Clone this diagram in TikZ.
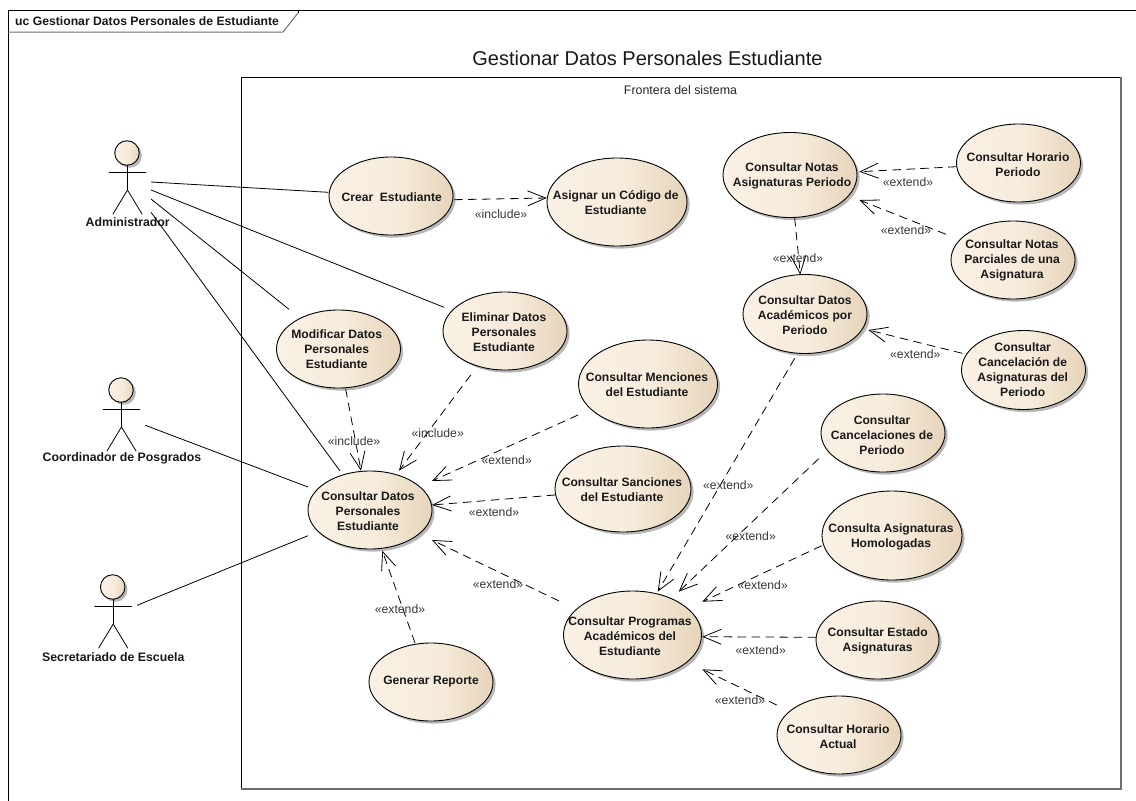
\documentclass[tikz,border=0pt]{standalone}
\usepackage{fontspec}
\setmainfont{Liberation Sans}
\usetikzlibrary{shapes.geometric,arrows.meta,calc}
\definecolor{ucA}{HTML}{F9F1E4}
\definecolor{ucB}{HTML}{F7ECDC}
\definecolor{ucC}{HTML}{E6D4BA}
\definecolor{edgeg}{HTML}{6E6E6E}
\pgfdeclarehorizontalshading{ucshade}{100bp}{color(0bp)=(ucA); color(25bp)=(ucA); color(52bp)=(ucB); color(75bp)=(ucC); color(100bp)=(ucC)}
\tikzset{
  x=1pt,y=-1pt,
  ucshape/.style={ellipse,draw=black,line width=0.9pt,inner sep=0pt,shading=ucshade,
    preaction={fill=black,fill opacity=.28,transform canvas={shift={(2.6,2.6)}}}},
  uctext/.style={inner sep=0pt,align=center,font=\fontsize{12.1}{15}\selectfont\bfseries,text=black!90},
  assoc/.style={line width=0.8pt,draw=black},
  dep/.style={line width=0.8pt,draw=black,dash pattern=on 8.5pt off 5.5pt,-{Straight Barb[length=18pt,width=15pt,line width=0.8pt]}},
  lbl/.style={inner sep=0pt,font=\fontsize{12.2}{14}\selectfont,text=black!78},
  limb/.style={line width=0.8pt,draw=black,line cap=round},
  acttext/.style={inner sep=0pt,font=\fontsize{12.3}{14}\selectfont\bfseries,text=black!90},
}
\newcommand{\ucnode}[8]{%
  \node[ucshape,minimum width=#4pt,minimum height=#5pt] (#1) at (#2,#3) {};
  \node[uctext] (#1-t) at (#6,#7) {#8};}
\newcommand{\actornode}[3]{%
  \node[ucshape,circle,minimum size=24.5pt] (#1) at (#2,#3) {};
  \coordinate (#1-n) at ($(#1)+(0.5,12.3)$);
  \coordinate (#1-h) at ($(#1)+(0.5,37)$);
  \draw[limb] ($(#1)+(-18,19)$) -- ($(#1)+(19,19)$);
  \draw[limb] (#1-n) -- (#1-h);
  \draw[limb] ($(#1)+(-14,61)$) -- (#1-h) -- ($(#1)+(15,61)$);}
\begin{document}
\begin{tikzpicture}
\useasboundingbox (0,0) rectangle (1136,801);
\fill[white] (0,0) rectangle (1136,801);
% frame
\draw[line width=0.9pt,black] (8,801) -- (8,10) -- (1136,10);
\draw[line width=0.9pt,black] (298,10) -- (298,13);
\draw[line width=1pt,edgeg] (8,32) -- (283,32) -- (298,13);
\node[inner sep=0pt,anchor=west,font=\fontsize{12.2}{14}\selectfont\bfseries,text=black!90] (frametitle) at (15,21) {uc Gestionar Datos Personales de Estudiante};
\node[inner sep=0pt,font=\fontsize{20}{22}\selectfont,text=black!90] (maintitle) at (647.5,58) {Gestionar Datos Personales Estudiante};
% boundary
\draw[line width=0.9pt,black] (241,789) -- (241,77) -- (1121,77);
\draw[line width=1.3pt,edgeg] (1121,77) -- (1121,789) -- (241,789);
\node[inner sep=0pt,font=\fontsize{12.4}{14}\selectfont,text=black!85] (boundary) at (680.5,90) {Frontera del sistema};
% use cases
\ucnode{crear}{391}{196}{124}{78}{391.7}{197}{Crear\ \ Estudiante}
\ucnode{asig}{617}{202}{140}{88}{615.7}{202.5}{Asignar un Código de\\Estudiante}
\ucnode{elim}{505}{331}{124}{78}{504}{332}{Eliminar Datos\\Personales\\Estudiante}
\ucnode{modi}{338.5}{349}{124}{78}{336.7}{349}{Modificar Datos\\Personales\\Estudiante}
\ucnode{menc}{648}{384}{139}{88}{647}{385}{Consultar Menciones\\del Estudiante}
\ucnode{sanc}{623}{489}{136}{86}{622}{489.5}{Consultar Sanciones\\del Estudiante}
\ucnode{datos}{370}{510}{124}{78}{368}{511}{Consultar Datos\\Personales\\Estudiante}
\ucnode{gene}{431}{682}{124}{78}{431}{682}{Generar Reporte}
\ucnode{prog}{632.5}{635}{138}{88}{630}{636}{Consultar Programas\\Académicos del\\Estudiante}
\ucnode{notas}{790}{175}{134}{85}{792}{175.6}{Consultar Notas\\Asignaturas Periodo}
\ucnode{hper}{1018.5}{163}{124}{78}{1018}{164.5}{Consultar Horario\\Periodo}
\ucnode{parc}{1013}{260}{124}{78}{1012}{260.5}{Consultar Notas\\Parciales de una\\Asignatura}
\ucnode{acad}{805}{314}{124}{79}{805}{315}{Consultar Datos\\Académicos por\\Periodo}
\ucnode{canc}{1023.5}{370}{124}{79}{1022.7}{370}{Consultar\\Cancelación de\\Asignaturas del\\Periodo}
\ucnode{cper}{883}{433}{124}{78}{882}{435}{Consultar\\Cancelaciones de\\Periodo}
\ucnode{homo}{892}{535.5}{140}{89}{891}{536.6}{Consulta Asignaturas\\Homologadas}
\ucnode{esta}{877.5}{640}{123}{78}{877.7}{641}{Consultar Estado\\Asignaturas}
\ucnode{hact}{839}{735}{124}{78}{838}{736.6}{Consultar Horario\\Actual}
% actors
\actornode{admin}{127}{153}
\node[acttext] (admin-t) at (127.7,221.7) {Administrador};
\actornode{coord}{121}{390}
\node[acttext] (coord-t) at (122,458) {Coordinador de Posgrados};
\actornode{secre}{112.7}{587}
\node[acttext] (secre-t) at (113.3,657) {Secretariado de Escuela};
% associations
\draw[assoc] ($(admin)+(24,29)$) -- ($(crear)+(-62.7,-3.7)$);
\draw[assoc] ($(admin)+(24,37)$) -- ($(elim)+(-61,-23.7)$);
\draw[assoc] ($(admin)+(24,46)$) -- ($(modi)+(-49.5,-39.7)$);
\draw[assoc] ($(admin)+(24,59.3)$) -- ($(datos)+(-30,-39)$);
\draw[assoc] ($(coord)+(24.3,35.3)$) -- ($(datos)+(-62,-23)$);
\draw[assoc] ($(secre)+(24.3,18.3)$) -- ($(datos)+(-62,25.7)$);
% dependencies
\draw[dep] ($(crear)+(63,3.7)$) -- ($(asig)+(-70.3,-4)$);
\draw[dep] ($(modi)+(7.2,40)$) -- ($(datos)+(-9,-39.3)$);
\draw[dep] ($(elim)+(-34.3,44)$) -- ($(datos)+(29,-39.3)$);
\draw[dep] ($(menc)+(-70,31)$) -- ($(datos)+(62,-29)$);
\draw[dep] ($(sanc)+(-68,6)$) -- ($(datos)+(62,-5)$);
\draw[dep] ($(prog)+(-73.5,-34)$) -- ($(datos)+(62,30)$);
\draw[dep] ($(gene)+(-16,-39)$) -- ($(datos)+(12.3,40.7)$);
\draw[dep] ($(notas)+(4.7,43)$) -- ($(acad)+(-4.7,-39.3)$);
\draw[dep] ($(hper)+(-61.8,3.7)$) -- ($(notas)+(69.3,-3.3)$);
\draw[dep] ($(parc)+(-67,-25.7)$) -- ($(notas)+(69.3,25)$);
\draw[dep] ($(canc)+(-61.2,-16.7)$) -- ($(acad)+(63.3,16)$);
\draw[dep] ($(acad)+(-10.3,44.3)$) -- ($(prog)+(25.2,-43.3)$);
\draw[dep] ($(cper)+(-64.3,25.7)$) -- ($(prog)+(46.2,-43.3)$);
\draw[dep] ($(homo)+(-70.3,10.2)$) -- ($(prog)+(69.8,-33.3)$);
\draw[dep] ($(esta)+(-61.5,-2.7)$) -- ($(prog)+(69.8,1.7)$);
\draw[dep] ($(hact)+(-62.3,-30)$) -- ($(prog)+(69.8,34.3)$);
% labels
\node[lbl] (l1) at (501,214) {«include»};
\node[lbl] (l2) at (354,441) {«include»};
\node[lbl] (l3) at (437.7,433) {«include»};
\node[lbl] (l4) at (506.7,460) {«extend»};
\node[lbl] (l5) at (494,512) {«extend»};
\node[lbl] (l6) at (498,584) {«extend»};
\node[lbl] (l7) at (400,609) {«extend»};
\node[lbl] (l8) at (798,258) {«extend»};
\node[lbl] (l9) at (908,181.7) {«extend»};
\node[lbl] (l10) at (906,230) {«extend»};
\node[lbl] (l11) at (915.3,354.3) {«extend»};
\node[lbl] (l12) at (728.3,485) {«extend»};
\node[lbl] (l13) at (750.7,536.3) {«extend»};
\node[lbl] (l14) at (762.7,585) {«extend»};
\node[lbl] (l15) at (760.7,650.3) {«extend»};
\node[lbl] (l16) at (740,700.3) {«extend»};
\end{tikzpicture}
\end{document}
